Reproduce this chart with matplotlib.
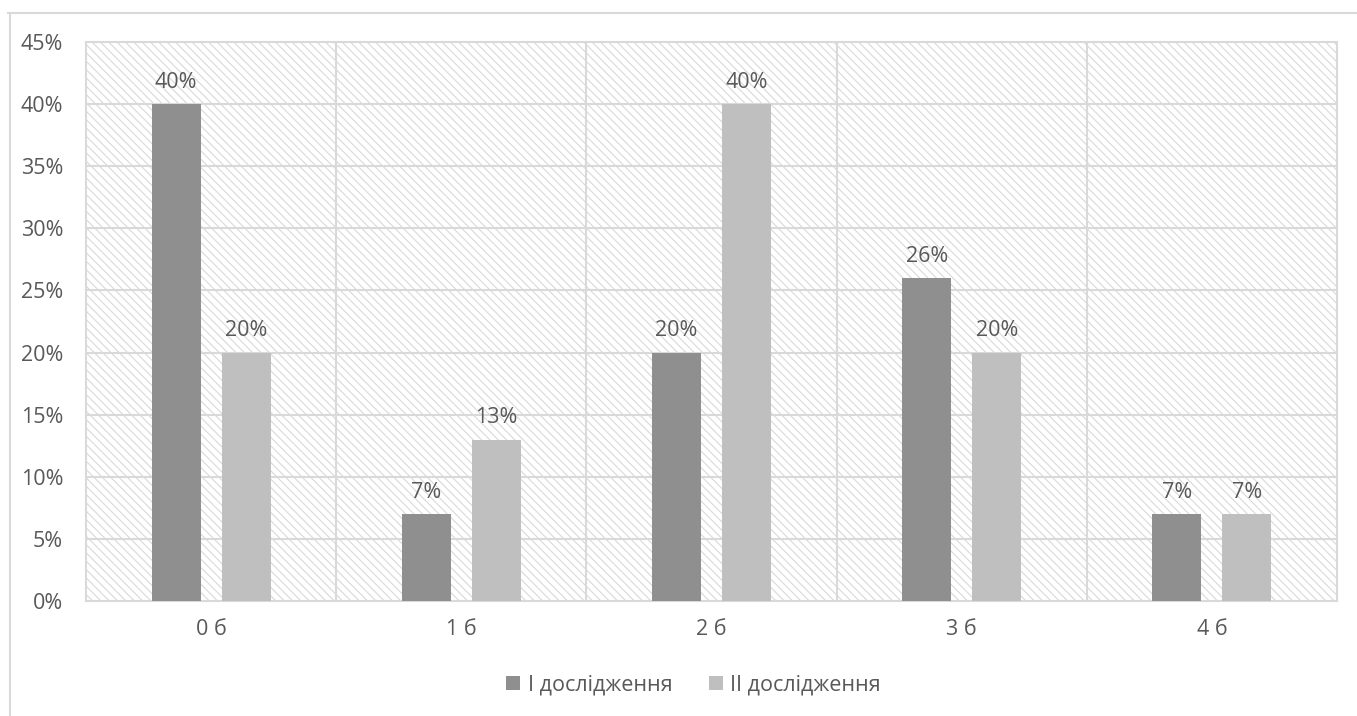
import matplotlib.pyplot as plt
import numpy as np
from matplotlib.patches import Rectangle

plt.rcParams['font.family'] = ['Open Sans', 'DejaVu Sans']
plt.rcParams['hatch.color'] = '#d9d9d9'
plt.rcParams['hatch.linewidth'] = 0.8

# Survey results, share of respondents per score
categories = ['0 б', '1 б', '2 б', '3 б', '4 б']
study_1 = [40, 7, 20, 26, 7]
study_2 = [20, 13, 40, 20, 7]
series_names = ['I дослідження', 'II дослідження']

text_color = '#595959'
grid_color = '#d9d9d9'
dark = '#8f8f8f'
light = '#bfbfbf'
fs = 15.5

fig = plt.figure(figsize=(13.57, 7.16), dpi=100)
ax = fig.add_axes([0.0634, 0.1606, 0.9219, 0.7807])

# outer chart frame
fig.add_artist(plt.Line2D([10 / 1357, 10 / 1357], [0, 1 - 13 / 716],
                          transform=fig.transFigure, color=grid_color, lw=1.5))
fig.add_artist(plt.Line2D([8 / 1357, 1], [1 - 13 / 716, 1 - 13 / 716],
                          transform=fig.transFigure, color=grid_color, lw=1.5))

# hatched plot area background
ax.add_patch(Rectangle((0, 0), 1, 1, transform=ax.transAxes, facecolor='white',
                       edgecolor=grid_color, hatch='\\\\\\\\', lw=0, zorder=0))

x = np.arange(len(categories))
width = 0.196
offset = 0.14
b1 = ax.bar(x - offset, study_1, width, color=dark, label=series_names[0], zorder=3)
b2 = ax.bar(x + offset, study_2, width, color=light, label=series_names[1], zorder=3)

for rects, vals in ((b1, study_1), (b2, study_2)):
    for rect, v in zip(rects, vals):
        ax.annotate(f'{v}%', xy=(rect.get_x() + rect.get_width() / 2, v),
                    xytext=(0, 8), textcoords='offset points',
                    ha='center', va='bottom', fontsize=fs, color=text_color)

ax.set_xlim(-0.5, len(categories) - 0.5)
ax.set_ylim(0, 45)
ax.set_yticks(range(0, 46, 5))
ax.set_yticklabels([f'{t}%' for t in range(0, 46, 5)])
ax.set_xticks(x)
ax.set_xticklabels(categories)

# grid lines over the hatch plus vertical category dividers
for t in range(5, 45, 5):
    ax.axhline(t, color=grid_color, lw=1.5, zorder=1)
for b in np.arange(0.5, len(categories) - 0.5, 1):
    ax.axvline(b, color=grid_color, lw=1.5, zorder=1)

for s in ax.spines.values():
    s.set_color(grid_color)
    s.set_linewidth(1.5)
ax.tick_params(length=0, labelsize=fs, colors=text_color)
ax.tick_params(axis='y', pad=16.5)
ax.tick_params(axis='x', pad=13)

fig.legend(loc='center', bbox_to_anchor=(0.511, 0.0433), ncol=2, frameon=False,
           fontsize=fs, labelcolor=text_color, handlelength=0.65, handleheight=0.65,
           handletextpad=0.33, columnspacing=1.7)

fig.savefig('out.png', dpi=100)
